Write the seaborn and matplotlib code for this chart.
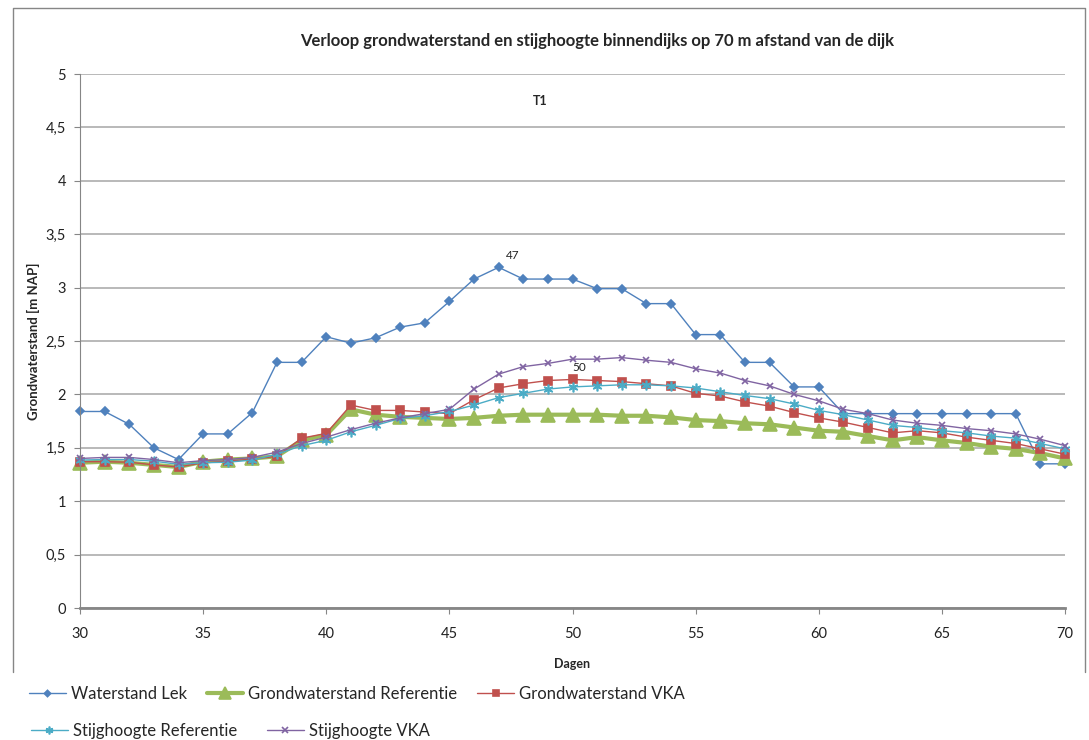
import numpy as np
import pandas as pd
import seaborn as sns
from matplotlib import pyplot as plt
from matplotlib.lines import Line2D
from matplotlib.ticker import FuncFormatter

days = list(range(30, 71))

waterstand_lek = [1.84, 1.84, 1.72, 1.50, 1.39, 1.63, 1.63, 1.83, 2.30, 2.30,
                  2.54, 2.48, 2.53, 2.63, 2.67, 2.87, 3.08, 3.19, 3.08, 3.08,
                  3.08, 2.99, 2.99, 2.85, 2.85, 2.56, 2.56, 2.30, 2.30, 2.07,
                  2.07, 1.82, 1.82, 1.82, 1.82, 1.82, 1.82, 1.82, 1.82, 1.35, 1.35]
gw_referentie = [1.36, 1.37, 1.36, 1.34, 1.32, 1.37, 1.39, 1.40, 1.42, 1.57,
                 1.62, 1.86, 1.81, 1.79, 1.78, 1.77, 1.78, 1.80, 1.81, 1.81,
                 1.81, 1.81, 1.80, 1.80, 1.785, 1.76, 1.75, 1.73, 1.72, 1.69,
                 1.66, 1.65, 1.61, 1.57, 1.60, 1.57, 1.545, 1.51, 1.49, 1.45, 1.40]
gw_vka = [1.37, 1.37, 1.365, 1.34, 1.32, 1.36, 1.375, 1.395, 1.42, 1.59,
          1.635, 1.90, 1.85, 1.85, 1.835, 1.82, 1.95, 2.06, 2.10, 2.13,
          2.14, 2.13, 2.12, 2.10, 2.08, 2.01, 1.985, 1.93, 1.89, 1.83,
          1.78, 1.74, 1.69, 1.64, 1.66, 1.64, 1.60, 1.57, 1.54, 1.49, 1.44]
sh_referentie = [1.385, 1.39, 1.39, 1.375, 1.345, 1.36, 1.365, 1.385, 1.44, 1.52,
                 1.57, 1.65, 1.71, 1.775, 1.80, 1.84, 1.90, 1.97, 2.01, 2.05,
                 2.07, 2.08, 2.09, 2.09, 2.08, 2.06, 2.025, 1.99, 1.96, 1.91,
                 1.85, 1.81, 1.76, 1.71, 1.69, 1.66, 1.64, 1.61, 1.59, 1.54, 1.49]
sh_vka = [1.40, 1.41, 1.41, 1.39, 1.36, 1.38, 1.39, 1.41, 1.46, 1.54,
          1.60, 1.67, 1.73, 1.78, 1.82, 1.86, 2.05, 2.19, 2.26, 2.29,
          2.33, 2.33, 2.345, 2.32, 2.30, 2.24, 2.20, 2.13, 2.08, 2.00,
          1.94, 1.86, 1.82, 1.76, 1.73, 1.71, 1.68, 1.66, 1.63, 1.58, 1.52]

sns.set_style("white")
plt.rcParams['font.family'] = ['Lato', 'DejaVu Sans']

fig = plt.figure(figsize=(10.89, 7.40), dpi=100)
ax = fig.add_axes([80/1089, 1-608/740, 985/1089, 534/740])

# name, values, color, marker, markersize, linewidth
series = [
    ("Waterstand Lek", waterstand_lek, "#4F81BD", "D", 4, 1.0),
    ("Grondwaterstand Referentie", gw_referentie, "#9BBB59", "^", 10, 3),
    ("Grondwaterstand VKA", gw_vka, "#C0504D", "s", 6, 1.0),
    ("Stijghoogte Referentie", sh_referentie, "#4BACC6", (6, 2, 0), 7, 1.0),
    ("Stijghoogte VKA", sh_vka, "#8064A2", "x", 5, 1.0),
]

handles = []
for name, vals, col, mk, ms, lw in series:
    sns.lineplot(x=days, y=vals, ax=ax, color=col, marker=mk, markersize=ms,
                 linewidth=lw, markeredgecolor=col, markeredgewidth=1.2, clip_on=False)
    handles.append(Line2D([], [], color=col, marker=mk, markersize=ms*0.8,
                          linewidth=lw, markeredgecolor=col, markeredgewidth=1.2, label=name))

ax.set_xlim(30, 70)
ax.set_ylim(0, 5)
ax.set_xticks(range(30, 71, 5))
ax.set_yticks(np.arange(0, 5.01, 0.5))
ax.yaxis.set_major_formatter(FuncFormatter(lambda v, p: f"{v:g}".replace(".", ",")))
ax.grid(axis='y', color='#b3b3b3', linewidth=1.3)
ax.set_axisbelow(True)
for s in ['top', 'right']:
    ax.spines[s].set_visible(False)
ax.spines['left'].set_color('#868686')
ax.spines['bottom'].set_color('#868686')
ax.spines['bottom'].set_linewidth(2)
ax.tick_params(axis='both', direction='out', length=4, color='#868686',
               labelsize=10.5, labelcolor='#222222', left=True, bottom=True)
ax.tick_params(axis='y', pad=6)
ax.tick_params(axis='x', pad=10)

ax.set_xlabel("Dagen", fontsize=9, fontweight='bold', labelpad=12)
ax.set_ylabel("Grondwaterstand [m NAP]", fontsize=9.5, fontweight='bold', labelpad=4)

ax.annotate("47", xy=(47, 3.19), xytext=(10, 6), textcoords='offset points',
            ha='center', fontsize=8.5, color='#222222')
ax.annotate("50", xy=(50, 2.14), xytext=(5, 6), textcoords='offset points',
            ha='center', fontsize=8.5, color='#222222')

fig.text(597/1089, 1-41/740, "Verloop grondwaterstand en stijghoogte binnendijks op 70 m afstand van de dijk",
         ha='center', va='center', fontsize=12, fontweight='bold')
fig.text(540/1089, 1-101/740, "T1", ha='center', va='center', fontsize=9, fontweight='bold')

# chart frame
fc = '#868686'
fig.add_artist(Line2D([13/1089, 13/1089, 1085/1089, 1085/1089],
                      [1-672/740, 1-8/740, 1-8/740, 1-672/740],
                      transform=fig.transFigure, color=fc, linewidth=1))

leg1 = fig.legend(handles=handles[:3], loc='center left', bbox_to_anchor=(14/1089, 1-694/740),
                  ncol=3, frameon=False, fontsize=12, handlelength=2.2,
                  handletextpad=0.3, columnspacing=1.2)
leg2 = fig.legend(handles=handles[3:], loc='center left', bbox_to_anchor=(16/1089, 1-731/740),
                  ncol=2, frameon=False, fontsize=12, handlelength=2.2,
                  handletextpad=0.3, columnspacing=1.8)

fig.savefig("out.png", dpi=100, facecolor='white')
